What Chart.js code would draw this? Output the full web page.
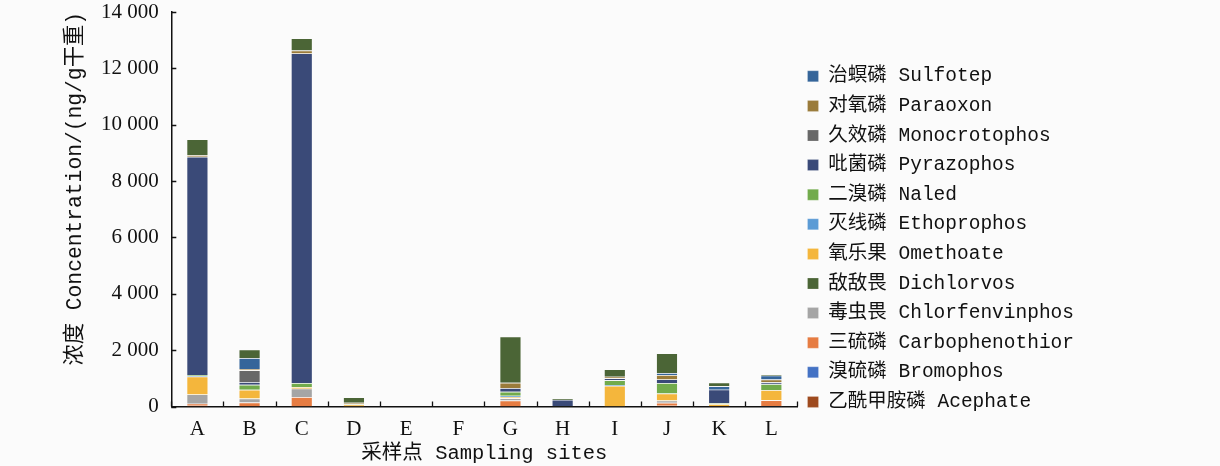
<!DOCTYPE html>
<html>
<head>
<meta charset="utf-8">
<script src="https://cdn.jsdelivr.net/npm/chart.js@4.4.1/dist/chart.umd.min.js"></script>
<style>
  html, body { margin: 0; padding: 0; background: #fbfbfb; }
  #wrap { width: 1220px; height: 466px; }
</style>
</head>
<body>
<div id="wrap"><canvas id="c1"></canvas></div>
<script>
// sampling sites
var sites = ['A', 'B', 'C', 'D', 'E', 'F', 'G', 'H', 'I', 'J', 'K', 'L'];

// concentrations (ng/g dry weight), stacked bottom -> top
var acephate        = [30, 0, 0, 0, 0, 0, 0, 0, 0, 30, 0, 0];
var bromophos       = [0, 0, 0, 0, 0, 0, 0, 0, 0, 0, 0, 20];
var carbophenothion = [70, 140, 330, 0, 0, 0, 210, 0, 0, 100, 20, 200];
var chlorfenvinphos = [330, 140, 300, 0, 0, 0, 80, 0, 0, 80, 0, 0];
var omethoate       = [630, 310, 60, 70, 0, 0, 50, 0, 730, 250, 60, 360];
var ethoprophos     = [20, 0, 0, 0, 0, 0, 40, 0, 35, 0, 0, 0];
var naled           = [40, 180, 140, 20, 0, 0, 140, 10, 165, 370, 35, 210];
var pyrazophos      = [7740, 95, 11700, 0, 0, 0, 130, 220, 70, 130, 480, 60];
var monocrotophos   = [0, 420, 0, 0, 0, 0, 0, 0, 0, 0, 0, 20];
var paraoxon        = [60, 50, 100, 40, 0, 0, 190, 0, 60, 155, 0, 85];
var sulfotep        = [0, 380, 0, 0, 0, 0, 0, 0, 0, 70, 120, 140];
var dichlorvos      = [560, 300, 430, 190, 0, 0, 1640, 50, 260, 700, 130, 40];

var yTicks = [0, 2000, 4000, 6000, 8000, 10000, 12000, 14000];

// legend order as printed in the figure
var legendOrder = ['治螟磷 Sulfotep', '对氧磷 Paraoxon', '久效磷 Monocrotophos', '吡菌磷 Pyrazophos',
  '二溴磷 Naled', '灭线磷 Ethoprophos', '氧乐果 Omethoate', '敌敌畏 Dichlorvos',
  '毒虫畏 Chlorfenvinphos', '三硫磷 Carbophenothior', '溴硫磷 Bromophos', '乙酰甲胺磷 Acephate'];

var monoFont = "'Liberation Mono', 'Noto Sans CJK SC', monospace";
var serifFont = "'Liberation Serif', 'DejaVu Serif', serif";

function ds(label, data, color) {
  return {
    label: label,
    data: data,
    backgroundColor: color,
    borderColor: 'rgba(255,255,255,0.35)',
    borderWidth: 0.6,
    stack: 's1'
  };
}

// inward tick marks on both axes
var innerTicks = {
  id: 'innerTicks',
  afterDraw: function(chart) {
    var c = chart.ctx, x = chart.scales.x, y = chart.scales.y;
    c.save();
    c.strokeStyle = '#111';
    c.lineWidth = 1.3;
    c.beginPath();
    yTicks.forEach(function(v) {
      var py = Math.round(y.getPixelForValue(v)) + 0.5;
      c.moveTo(x.left, py); c.lineTo(x.left + 5, py);
    });
    var half = (x.getPixelForValue(1) - x.getPixelForValue(0)) / 2;
    for (var i = 0; i <= sites.length; i++) {
      var px = Math.round(x.getPixelForValue(i) - half) + 0.5;
      c.moveTo(px, y.bottom); c.lineTo(px, y.bottom - 5);
    }
    c.stroke();
    c.restore();
  }
};

var ctx = document.getElementById('c1');
var myChart = new Chart(ctx, {
  type: 'bar',
  data: {
    labels: sites,
    datasets: [
      ds('乙酰甲胺磷 Acephate', acephate, '#9e4a1e'),
      ds('溴硫磷 Bromophos', bromophos, '#4472c4'),
      ds('三硫磷 Carbophenothior', carbophenothion, '#e67c42'),
      ds('毒虫畏 Chlorfenvinphos', chlorfenvinphos, '#a5a5a5'),
      ds('氧乐果 Omethoate', omethoate, '#f4b63c'),
      ds('灭线磷 Ethoprophos', ethoprophos, '#5b9bd5'),
      ds('二溴磷 Naled', naled, '#72ab4c'),
      ds('吡菌磷 Pyrazophos', pyrazophos, '#3a4a78'),
      ds('久效磷 Monocrotophos', monocrotophos, '#686868'),
      ds('对氧磷 Paraoxon', paraoxon, '#9a7b3a'),
      ds('治螟磷 Sulfotep', sulfotep, '#35659a'),
      ds('敌敌畏 Dichlorvos', dichlorvos, '#4b6536')
    ]
  },
  options: {
    responsive: true,
    maintainAspectRatio: false,
    animation: false,
    categoryPercentage: 1,
    barPercentage: 0.41,
    layout: { padding: { top: 0, right: 136, left: 63, bottom: 0 } },
    plugins: {
      tooltip: { enabled: false },
      legend: {
        position: 'right',
        maxWidth: 300,
        title: { display: true, text: ' ', padding: 5.5, font: { size: 1 } },
        labels: {
          boxWidth: 11,
          boxHeight: 11,
          padding: 10.1,
          color: '#111',
          font: { family: monoFont, size: 19.5 },
          sort: function(a, b) {
            return legendOrder.indexOf(a.text) - legendOrder.indexOf(b.text);
          }
        }
      }
    },
    scales: {
      x: {
        stacked: true,
        border: { display: true, color: '#111', width: 1.5 },
        grid: { display: false, drawTicks: false },
        ticks: { color: '#111', padding: 10.4, font: { family: serifFont, size: 21 } },
        title: {
          display: true,
          text: '采样点 Sampling sites',
          color: '#111',
          padding: { top: -9, bottom: 2 },
          font: { family: monoFont, size: 20.5, lineHeight: 1 }
        }
      },
      y: {
        stacked: true,
        min: 0,
        max: 14000,
        afterBuildTicks: function(axis) {
          axis.ticks = yTicks.map(function(v) { return { value: v }; });
        },
        afterFit: function(axis) {
          axis.paddingTop = 12;
        },
        border: { display: true, color: '#111', width: 1.5 },
        grid: { display: false, drawTicks: false },
        ticks: {
          color: '#111',
          padding: 12.5,
          font: { family: serifFont, size: 21 },
          callback: function(v) {
            return String(v).replace(/\B(?=(\d{3})+(?!\d))/g, ' ');
          }
        },
        title: {
          display: true,
          text: '浓度 Concentration/(ng/g干重)',
          align: 'end',
          color: '#111',
          padding: { top: 0, bottom: 0 },
          font: { family: monoFont, size: 21.3 }
        }
      }
    }
  },
  plugins: [innerTicks]
});
</script>
</body>
</html>
